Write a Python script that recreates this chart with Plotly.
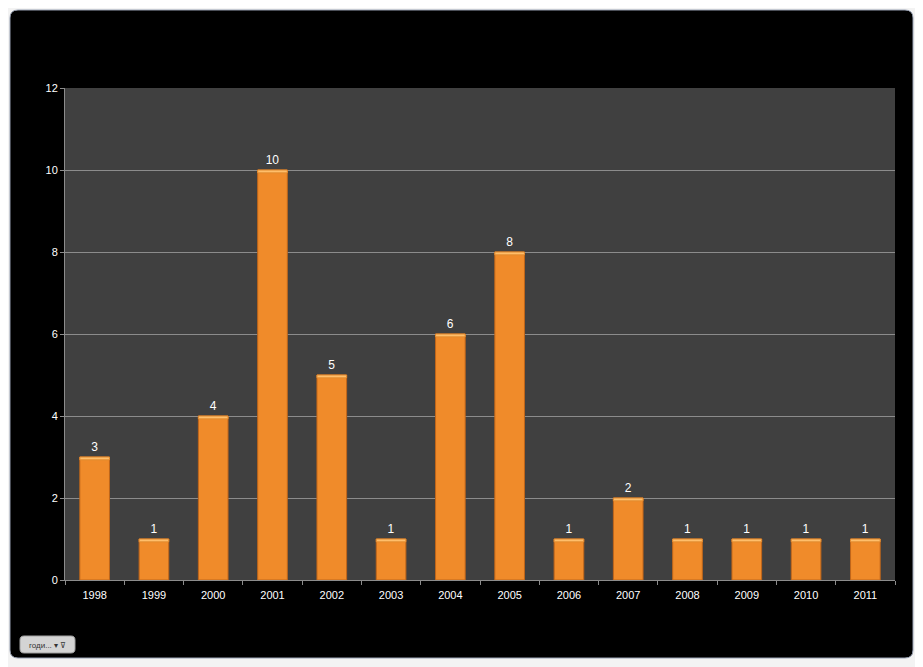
import plotly.graph_objects as go

years = ["1998", "1999", "2000", "2001", "2002", "2003", "2004", "2005",
         "2006", "2007", "2008", "2009", "2010", "2011"]
counts = [3, 1, 4, 10, 5, 1, 6, 8, 1, 2, 1, 1, 1, 1]
y_ticks = [0, 2, 4, 6, 8, 10, 12]

# page body adds an 8px offset; lay out in reference pixels and shift
OFF = 8
W, H = 923 - OFF, 667 - OFF
L, R, T, B = 65 - OFF, 28, 88 - OFF, 87
pw, ph = W - L - R, H - T - B


def px(X):
    return (X - OFF - L) / pw


def py(Y):
    return (H - B - (Y - OFF)) / ph


def rounded_rect(x0, y0, x1, y1, r):
    def P(X, Y):
        return f"{px(X):.5f},{py(Y):.5f}"
    return (f"M {P(x0 + r, y0)} L {P(x1 - r, y0)} Q {P(x1, y0)} {P(x1, y0 + r)} "
            f"L {P(x1, y1 - r)} Q {P(x1, y1)} {P(x1 - r, y1)} "
            f"L {P(x0 + r, y1)} Q {P(x0, y1)} {P(x0, y1 - r)} "
            f"L {P(x0, y0 + r)} Q {P(x0, y0)} {P(x0 + r, y0)} Z")


bevel = 0.07
fig = go.Figure()
fig.add_trace(go.Bar(
    x=years, y=counts,
    marker=dict(color="#F08B2A", line=dict(color="#C0661A", width=1)),
    width=0.5,
    text=[str(v) for v in counts],
    textposition="outside",
    textfont=dict(color="white", size=12, family="Liberation Sans"),
    cliponaxis=False,
    hoverinfo="x+y",
))
fig.add_trace(go.Bar(
    x=years, y=[bevel] * len(counts), base=[v - bevel for v in counts],
    marker=dict(color="#FFBE6A", line=dict(color="#E08A30", width=1)),
    width=0.5, hoverinfo="skip",
))

shapes = [
    dict(type="path", xref="paper", yref="paper", layer="below",
         path=rounded_rect(10, 10, 913, 658, 8),
         fillcolor="black", line=dict(color="#9aa3b5", width=1)),
    dict(type="rect", xref="paper", yref="paper", layer="below",
         x0=0, x1=1, y0=0, y1=1, fillcolor="#404040", line=dict(width=0)),
    dict(type="path", xref="paper", yref="paper", layer="above",
         path=rounded_rect(20, 636, 75, 653, 4),
         fillcolor="#d4d4d4", line=dict(color="#a0a0a0", width=1)),
]

fig.update_layout(
    width=W, height=H,
    margin=dict(l=L, r=R, t=T, b=B),
    paper_bgcolor="#f3f3f3",
    plot_bgcolor="rgba(0,0,0,0)",
    showlegend=False,
    barmode="overlay",
    bargap=0.5,
    font=dict(family="Liberation Sans", color="white", size=11),
    shapes=shapes,
    annotations=[dict(text="годи... ▾ ⊽", xref="paper", yref="paper",
                      x=px(47), y=py(645), showarrow=False,
                      xanchor="center", yanchor="middle",
                      font=dict(size=8, color="#333333"))],
    xaxis=dict(
        type="category", showgrid=False, showline=True,
        linecolor="#8c8c8c", linewidth=1,
        ticks="outside", tickson="boundaries", ticklen=4, tickcolor="#8c8c8c",
        tickfont=dict(color="white", size=11), ticklabelstandoff=5,
    ),
    yaxis=dict(
        range=[0, 12], tickvals=y_ticks, ticktext=[str(v) for v in y_ticks],
        showgrid=True, gridcolor="#8c8c8c", gridwidth=1,
        showline=True, linecolor="#8c8c8c", linewidth=1,
        ticks="outside", ticklen=4, tickcolor="#8c8c8c",
        tickfont=dict(color="white", size=11), zeroline=False,
    ),
)

fig.write_html("out.html")
